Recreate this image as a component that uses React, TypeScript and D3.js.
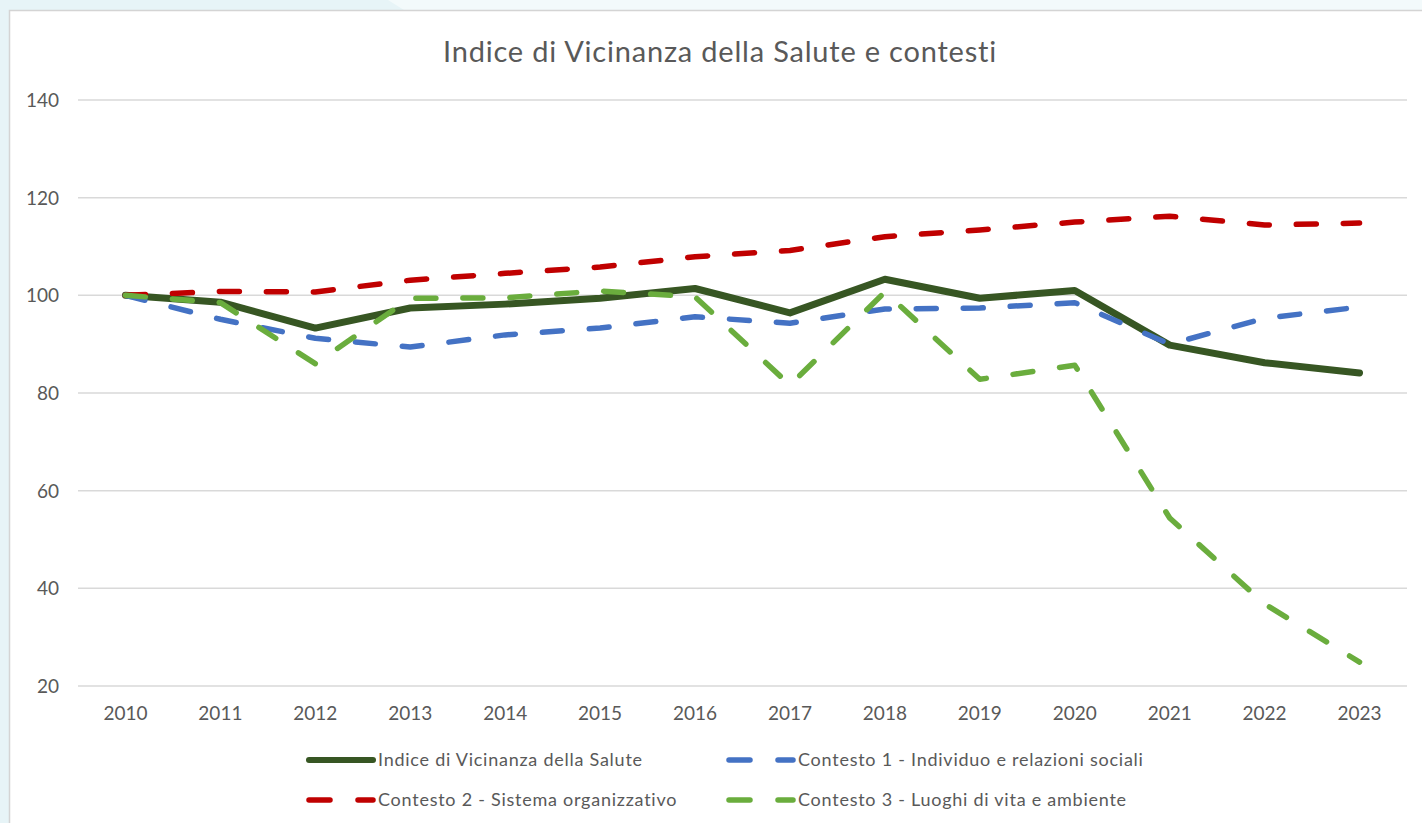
import React, { useEffect, useRef } from "react";
import * as d3 from "d3";

const years = ["2010", "2011", "2012", "2013", "2014", "2015", "2016", "2017", "2018", "2019", "2020", "2021", "2022", "2023"];
const indice = [100, 98.6, 93.3, 97.4, 98.2, 99.4, 101.4, 96.4, 103.3, 99.4, 101, 89.8, 86.2, 84.1];
const contesto1 = [100, 95.1, 91.2, 89.4, 91.9, 93.3, 95.6, 94.3, 97.2, 97.4, 98.5, 90, 95.3, 97.6];
const contesto2 = [100, 100.8, 100.7, 103.1, 104.5, 105.8, 107.9, 109.2, 112, 113.4, 115, 116.2, 114.4, 114.8];
const contesto3 = [100, 98.5, 86, 99.4, 99.5, 100.9, 99.7, 81.6, 100.7, 82.8, 85.7, 54.4, 36.8, 24.9];
const yTicks = [20, 40, 60, 80, 100, 120, 140];

const seriesNames = [
  "Indice di Vicinanza della Salute",
  "Contesto 1 - Individuo e relazioni sociali",
  "Contesto 2 - Sistema organizzativo",
  "Contesto 3 - Luoghi di vita e ambiente",
];

const W = 1422;
const H = 823;
const FONT = "Lato, 'Open Sans', sans-serif";
const TXT = "#595959";

const App = () => {
  const svgRef = useRef<SVGSVGElement>(null);

  useEffect(() => {
    const svg = d3.select(svgRef.current);
    svg.selectAll("*").remove();

    // page background + card
    svg.append("rect").attr("width", W).attr("height", H).attr("fill", "#f3fafb");
    svg
      .append("polygon")
      .attr("points", "0,0 388,0 404,10 9,10 9,823 0,823")
      .attr("fill", "#e7f4f7");
    svg
      .append("rect")
      .attr("x", 9.5)
      .attr("y", 10.5)
      .attr("width", W)
      .attr("height", H)
      .attr("fill", "#fff")
      .attr("stroke", "#d4d4d4")
      .attr("stroke-width", 1.5);

    const left = 78;
    const right = 1407;
    const x = d3.scaleBand().domain(years).range([left, right]);
    const cx = (d: string) => (x(d) as number) + x.bandwidth() / 2;
    const y = d3.scaleLinear().domain([20, 140]).range([686, 100]);

    // title
    svg
      .append("text")
      .attr("x", 720)
      .attr("y", 62)
      .attr("text-anchor", "middle")
      .style("font-family", FONT)
      .style("font-size", "29px")
      .style("letter-spacing", "0.8px")
      .attr("fill", TXT)
      .text("Indice di Vicinanza della Salute e contesti");

    // grid
    svg
      .append("g")
      .selectAll("line")
      .data(yTicks)
      .join("line")
      .attr("x1", left)
      .attr("x2", right)
      .attr("y1", (d) => y(d))
      .attr("y2", (d) => y(d))
      .attr("stroke", "#d9d9d9")
      .attr("stroke-width", 1.5);

    svg
      .append("g")
      .selectAll("text")
      .data(yTicks)
      .join("text")
      .attr("x", 59)
      .attr("y", (d) => y(d) + 7)
      .attr("text-anchor", "end")
      .style("font-family", FONT)
      .style("font-size", "19px")
      .attr("fill", TXT)
      .text((d) => d);

    svg
      .append("g")
      .selectAll("text")
      .data(years)
      .join("text")
      .attr("x", (d) => cx(d))
      .attr("y", 720)
      .attr("text-anchor", "middle")
      .style("font-family", FONT)
      .style("font-size", "19px")
      .attr("fill", TXT)
      .text((d) => d);

    const series = [
      { name: seriesNames[0], values: indice, color: "#375623", width: 7, dash: null },
      { name: seriesNames[1], values: contesto1, color: "#4472c4", width: 5.5, dash: "20 27" },
      { name: seriesNames[2], values: contesto2, color: "#c00000", width: 5.5, dash: "20 27" },
      { name: seriesNames[3], values: contesto3, color: "#6aad3d", width: 5.5, dash: "20 27" },
    ];

    const line = d3
      .line<number>()
      .x((_, i) => cx(years[i]))
      .y((d) => y(d));

    series.forEach((s) => {
      svg
        .append("path")
        .datum(s.values)
        .attr("d", line)
        .attr("fill", "none")
        .attr("stroke", s.color)
        .attr("stroke-width", s.width)
        .attr("stroke-linecap", "round")
        .attr("stroke-linejoin", "round")
        .attr("stroke-dasharray", s.dash);
    });

    // legend
    const legendPos = [
      { x: 307, y: 760 },
      { x: 727, y: 760 },
      { x: 307, y: 800 },
      { x: 727, y: 800 },
    ];
    series.forEach((s, i) => {
      const p = legendPos[i];
      const g = svg.append("g").attr("transform", `translate(${p.x},${p.y})`);
      if (!s.dash) {
        g.append("line")
          .attr("x1", 2)
          .attr("x2", 66)
          .attr("stroke", s.color)
          .attr("stroke-width", 6)
          .attr("stroke-linecap", "round");
      } else {
        g.append("line")
          .attr("x1", 2)
          .attr("x2", 23)
          .attr("stroke", s.color)
          .attr("stroke-width", 5.5)
          .attr("stroke-linecap", "round");
        g.append("line")
          .attr("x1", 51)
          .attr("x2", 66)
          .attr("stroke", s.color)
          .attr("stroke-width", 5.5)
          .attr("stroke-linecap", "round");
      }
      g.append("text")
        .attr("x", 71)
        .attr("y", 6)
        .style("font-family", FONT)
        .style("font-size", "18px")
        .style("letter-spacing", "0.75px")
        .attr("fill", TXT)
        .text(s.name);
    });
  }, []);

  return (
    <div style={{ position: "absolute", left: 0, top: 0, width: W, height: H, overflow: "hidden" }}>
      <svg ref={svgRef} width={W} height={H} style={{ display: "block" }}></svg>
    </div>
  );
};

export default App;
